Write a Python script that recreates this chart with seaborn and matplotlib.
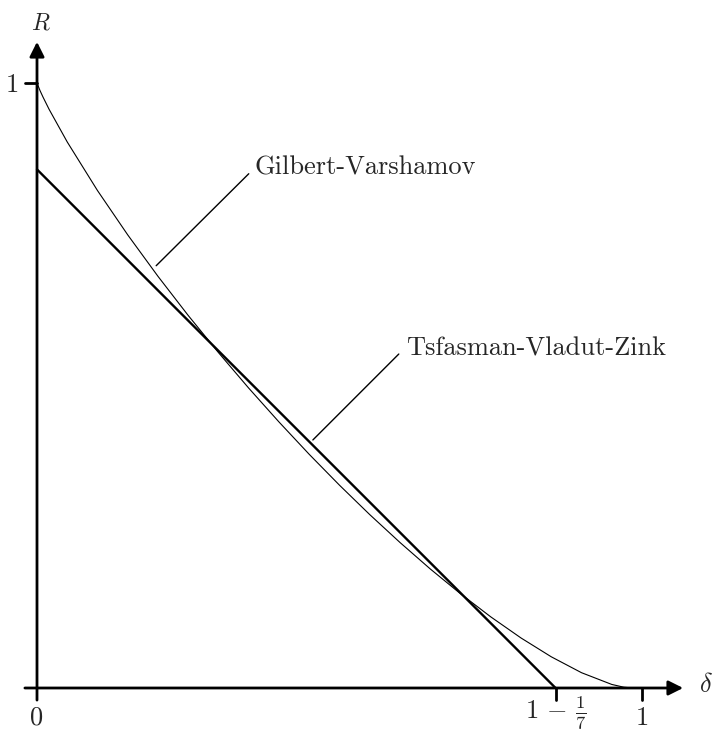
import matplotlib
matplotlib.use("Agg")
import matplotlib.pyplot as plt
import seaborn as sns

# Gilbert-Varshamov curve (q = 64)
gv_delta = [0.0, 0.005, 0.01, 0.02, 0.05, 0.10, 0.15, 0.20, 0.25, 0.30, 0.35,
            0.40, 0.45, 0.50, 0.55, 0.60, 0.65, 0.70, 0.75, 0.80, 0.85,
            0.90, 0.95, 0.97, 0.984375]
gv_rate = [1.0, 0.9874, 0.9766, 0.9565, 0.9025, 0.8222, 0.7489, 0.6804, 0.6157,
           0.5543, 0.4956, 0.4397, 0.3862, 0.3352, 0.2866, 0.2405, 0.1968,
           0.1558, 0.1176, 0.0827, 0.0516, 0.0253, 0.0059, 0.0013, 0.0]

# Tsfasman-Vladut-Zink line
tvz_delta = [0.0, 6 / 7]
tvz_rate = [6 / 7, 0.0]

x_ticks = [0.0, 6 / 7, 1.0]
x_tick_labels = ["0", r"$1\,-\,\frac{1}{7}$", "1"]

sns.set_style("white")
plt.rcParams["mathtext.fontset"] = "cm"
plt.rcParams["font.family"] = ["cmr10", "DejaVu Serif"]
plt.rcParams["axes.formatter.use_mathtext"] = True

fig = plt.figure(figsize=(7.12, 7.29), dpi=100)
ax = fig.add_axes([0, 0, 1, 1])
ax.set_xlim(-37 / 605, 675 / 605)
ax.set_ylim(-41 / 605, 688 / 605)
ax.axis("off")

sns.lineplot(x=gv_delta, y=gv_rate, ax=ax, color="black", lw=0.8,
             estimator=None, sort=False)
sns.lineplot(x=tvz_delta, y=tvz_rate, ax=ax, color="black", lw=1.7,
             estimator=None, sort=False)

# axes with arrow heads
arrow = dict(arrowstyle="-|>", lw=2.0, color="black", mutation_scale=22,
             shrinkA=0, shrinkB=0)
ax.annotate("", xy=(1.068, 0), xytext=(-0.02, 0), arrowprops=arrow)
ax.annotate("", xy=(0, 1.068), xytext=(0, -0.02), arrowprops=arrow)

# ticks
for xt in x_ticks[1:]:
    ax.plot([xt, xt], [-0.02, 0], color="black", lw=2.0)
ax.plot([-0.02, 0], [1, 1], color="black", lw=2.0)

fs = 19
for xt, lab in zip(x_ticks, x_tick_labels):
    yb = -0.051 if "frac" in lab else -0.061
    ax.text(xt, yb, lab, ha="center", va="baseline", fontsize=fs)
ax.text(-0.040, 0.985, "1", ha="center", va="baseline", fontsize=fs)
ax.text(0.007, 1.089, r"$R$", ha="center", va="baseline", fontsize=17)
ax.text(1.106, -0.007, r"$\delta$", ha="center", va="baseline", fontsize=fs)

# curve labels with leader lines
ax.plot([0.197, 0.350], [0.698, 0.850], color="black", lw=1.0)
ax.text(0.360, 0.848, "Gilbert-Varshamov", ha="left", va="baseline", fontsize=fs)
ax.plot([0.456, 0.598], [0.410, 0.552], color="black", lw=1.0)
ax.text(0.610, 0.549, "Tsfasman-Vladut-Zink", ha="left", va="baseline", fontsize=fs)

fig.savefig("out.png", dpi=100)
